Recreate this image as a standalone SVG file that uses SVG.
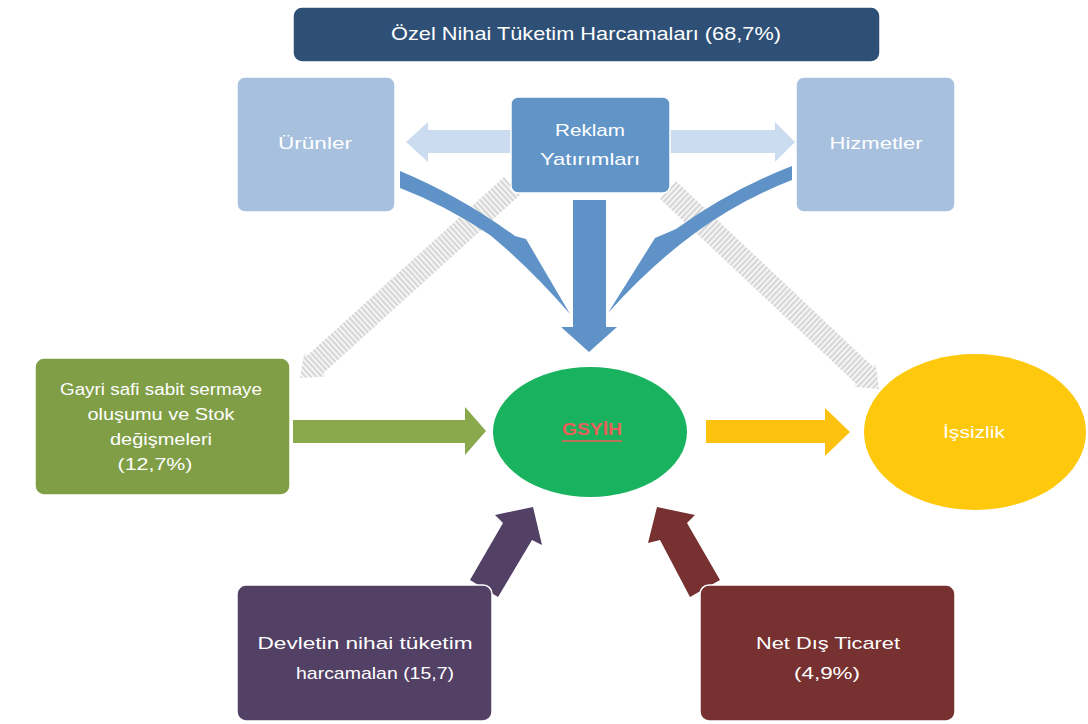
<svg xmlns="http://www.w3.org/2000/svg" width="1088" height="724" viewBox="0 0 1088 724">
<defs>
<pattern id="hatch" patternUnits="userSpaceOnUse" width="4" height="4">
<rect x="0" y="0" width="4" height="4" fill="#f5f5f5"/>
<rect x="0" y="0" width="2" height="4" fill="#d6d6d6"/>
</pattern>
<style>
.t{font-family:"Liberation Sans",Arial,sans-serif;fill:#ffffff;text-anchor:middle;}
.box{stroke:#ffffff;stroke-width:1.5;}
</style>
</defs>
<rect x="0" y="0" width="1088" height="724" fill="#ffffff"/>

<g id="connectors">
<!-- hatched gray arrows -->
<g transform="translate(512,186) rotate(137.8)">
<path d="M0,-12 L266,-12 L266,-16 L286,0 L266,16 L266,12 L0,12 Z" fill="url(#hatch)"/>
</g>
<g transform="translate(668,190) rotate(43.3)">
<path d="M0,-12 L270,-12 L270,-16 L290,0 L270,16 L270,12 L0,12 Z" fill="url(#hatch)"/>
</g>
<!-- light arrows from Reklam -->
<path d="M512,130 L428,130 L428,122 L406,142 L428,162 L428,153 L512,153 Z" fill="#ccdcf0"/>
<path d="M670,130 L775,130 L775,122 L795,142 L775,162 L775,153 L670,153 Z" fill="#ccdcf0"/>
<!-- tapered blue arrows -->
<path d="M400,171 Q460,196 515,236 L526,239 L570,314 Q530,268 490,235 Q445,205 400,188 Z" fill="#5f93c8"/>
<path d="M792,166 Q730,190 676,229 L655,238 L608,313 Q650,266 695,233 Q740,200 792,180 Z" fill="#5f93c8"/>
<!-- down arrow -->
<path d="M573,200 L606,200 L606,327 L617,327 L589,352 L561,327 L573,327 Z" fill="#5f93c8"/>
<!-- green arrow -->
<path d="M293,420 L465,420 L465,407 L486,431 L465,455 L465,443 L293,443 Z" fill="#8aa84c"/>
<!-- yellow arrow -->
<path d="M706,420 L825,420 L825,408 L850,432 L825,456 L825,443 L706,443 Z" fill="#fdc20f"/>
<!-- purple arrow -->
<path d="M470,580 L503,523 L495,515 L533,507 L542,545 L532,540 L498,597 Z" fill="#524065"/>
<!-- maroon arrow -->
<path d="M720,580 L687,523 L695,515 L657,507 L648,543 L660,540 L690,597 Z" fill="#763130"/>
</g>

<g id="ozel">
<rect class="box" x="293" y="7" width="587" height="55" rx="9" fill="#2e5077"/>
<text class="t" x="586" y="40" font-size="19" textLength="390" lengthAdjust="spacingAndGlyphs">Özel Nihai Tüketim Harcamaları (68,7%)</text>
</g>

<g id="urunler">
<rect class="box" x="237" y="77" width="158" height="135" rx="8" fill="#a7c0de"/>
<text class="t" x="315" y="149" font-size="17" textLength="74" lengthAdjust="spacingAndGlyphs">Ürünler</text>
</g>

<g id="reklam">
<rect class="box" x="511" y="97" width="159" height="96" rx="7" fill="#6195c8"/>
<text class="t" x="590" y="136" font-size="17" textLength="70" lengthAdjust="spacingAndGlyphs">Reklam</text>
<text class="t" x="590" y="165" font-size="17" textLength="100" lengthAdjust="spacingAndGlyphs">Yatırımları</text>
</g>

<g id="hizmetler">
<rect class="box" x="796" y="77" width="159" height="135" rx="8" fill="#a7c0de"/>
<text class="t" x="876" y="149" font-size="17" textLength="93" lengthAdjust="spacingAndGlyphs">Hizmetler</text>
</g>

<g id="gayri">
<rect class="box" x="35" y="358" width="255" height="137" rx="9" fill="#7f9e46"/>
<text class="t" x="161" y="395" font-size="16" textLength="202" lengthAdjust="spacingAndGlyphs">Gayri safi sabit sermaye</text>
<text class="t" x="161" y="420" font-size="16" textLength="147" lengthAdjust="spacingAndGlyphs">oluşumu ve Stok</text>
<text class="t" x="161" y="445" font-size="16" textLength="102" lengthAdjust="spacingAndGlyphs">değişmeleri</text>
<text class="t" x="155" y="470" font-size="16" textLength="75" lengthAdjust="spacingAndGlyphs">(12,7%)</text>
</g>

<g id="gsyih">
<ellipse cx="590" cy="432" rx="97" ry="65" fill="#19b35f"/>
<text x="592" y="435" font-family="Liberation Sans, Arial, sans-serif" font-size="17" font-weight="bold" fill="#e8605a" text-anchor="middle" textLength="60" lengthAdjust="spacingAndGlyphs">GSYİH</text>
<line x1="562" y1="441" x2="622" y2="441" stroke="#e8605a" stroke-width="1.5"/>
</g>

<g id="issizlik">
<ellipse cx="975" cy="432" rx="111" ry="78" fill="#fec80c"/>
<text class="t" x="974" y="438" font-size="17" textLength="62" lengthAdjust="spacingAndGlyphs">İşsizlik</text>
</g>

<g id="devlet">
<rect class="box" x="237" y="585" width="255" height="136" rx="9" fill="#524065"/>
<text class="t" x="365" y="649" font-size="17" textLength="215" lengthAdjust="spacingAndGlyphs">Devletin nihai tüketim</text>
<text class="t" x="375" y="679" font-size="17" textLength="158" lengthAdjust="spacingAndGlyphs">harcamalan (15,7)</text>
</g>

<g id="netdis">
<rect class="box" x="700" y="585" width="255" height="136" rx="9" fill="#763130"/>
<text class="t" x="828" y="649" font-size="17" textLength="144" lengthAdjust="spacingAndGlyphs">Net Dış Ticaret</text>
<text class="t" x="827" y="679" font-size="17" textLength="66" lengthAdjust="spacingAndGlyphs">(4,9%)</text>
</g>
</svg>
